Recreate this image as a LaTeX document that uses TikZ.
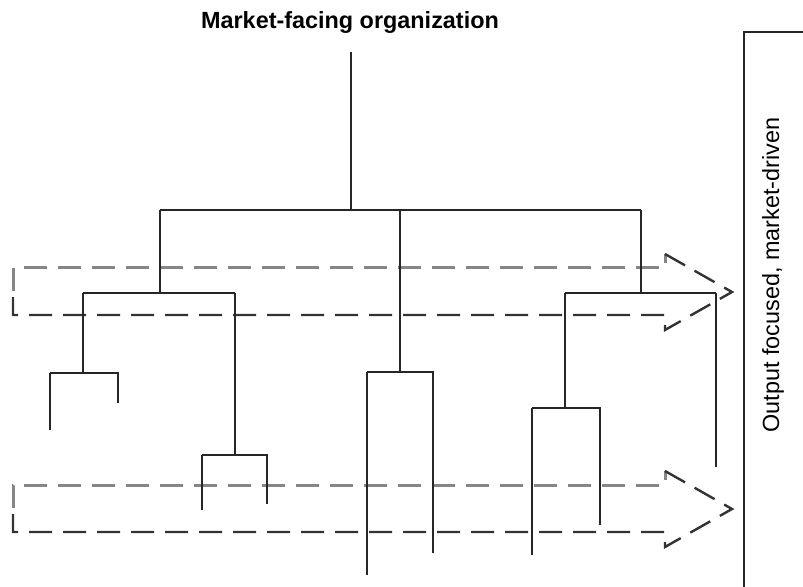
\documentclass[tikz,border=0pt]{standalone}
\usepackage{fontspec}
\setmainfont{Liberation Sans}
\usetikzlibrary{positioning}

\begin{document}
\begin{tikzpicture}[x=0.5pt, y=-0.5pt, line/.style={draw=black!85,
            line width=1pt}, flowlight/.style={draw=gray!95, line
            width=1.5pt, dash pattern=on 11.5pt off 5.5pt},
        flowdark/.style={draw=black!80, line width=1.2pt, dash
            pattern=on 11.5pt off 5.5pt}, title/.style={font=\fontsize{11.7}{14}\selectfont\bfseries},
        side/.style={font=\fontsize{11.7}{14}\selectfont, rotate=90}, ]

        \useasboundingbox (0,0) rectangle (803,587);

        \node[title] (head) at (350,23) {Market-facing organization};

        % dashed flow arrows
        \foreach \dy in {0,217} {
            \draw[flowlight] (13,{291+\dy}) -- (13,{268+\dy}) --
            (665,{268+\dy}) -- (665,{254+\dy});
            \draw[flowdark] (665,{254+\dy}) -- (732,{292+\dy}) --
            (665,{330+\dy}) -- (665,{315+\dy}) -- (13,{315+\dy}) --
            (13,{291+\dy});
        }

        % hierarchy
        \coordinate (root) at (351,52); \coordinate (hub) at (351,210);
        \coordinate (bl) at (160,210); \coordinate (bm) at (400,210);
        \coordinate (br) at (641,210);

        \coordinate (ljoin) at (160,293); \coordinate (lleft) at (83,293);
        \coordinate (lright) at (235,293);
        \coordinate (lla) at (83,373); \coordinate (llaL) at (50,373);
        \coordinate (llaR) at (118,373);
        \coordinate (lrb) at (235,455); \coordinate (lrbL) at (202,455);
        \coordinate (lrbR) at (267,455);

        \coordinate (mjoin) at (400,372); \coordinate (mL) at (367,372);
        \coordinate (mR) at (433,372);

        \coordinate (rjoin) at (641,293); \coordinate (rleft) at (565,293);
        \coordinate (rright) at (716,293);
        \coordinate (rla) at (565,408); \coordinate (rlaL) at (532,408);
        \coordinate (rlaR) at (600,408);

        \draw[line] (root) -- (hub);
        \draw[line] (bl) -- (br);
        \draw[line] (bl) -- (ljoin); \draw[line] (bm) -- (mjoin);
        \draw[line] (br) -- (rjoin);

        \draw[line] (lleft) -- (lright);
        \draw[line] (lleft) -- (lla); \draw[line] (lright) -- (lrb);
        \draw[line] (llaL) -- ++(0,57) (llaL) -- (llaR) -- ++(0,30);
        \draw[line] (lrbL) -- ++(0,55) (lrbL) -- (lrbR) -- ++(0,49);

        \draw[line] (mL) -- ++(0,203) (mL) -- (mR) -- ++(0,181);

        \draw[line] (rleft) -- (rright);
        \draw[line] (rleft) -- (rla);
        \draw[line] (rright) -- ++(0,174);
        \draw[line] (rlaL) -- ++(0,147) (rlaL) -- (rlaR) -- ++(0,117);

        % bracket
        \coordinate (brtop) at (803,32); \coordinate (brcorner) at (744,32);
        \coordinate (brfoot) at (744,587);
        \draw[line] (brtop) -- (brcorner) -- (brfoot);

        \node[side] (focus) at (773,275) {Output focused, market-driven};
    \end{tikzpicture}
\end{document}
